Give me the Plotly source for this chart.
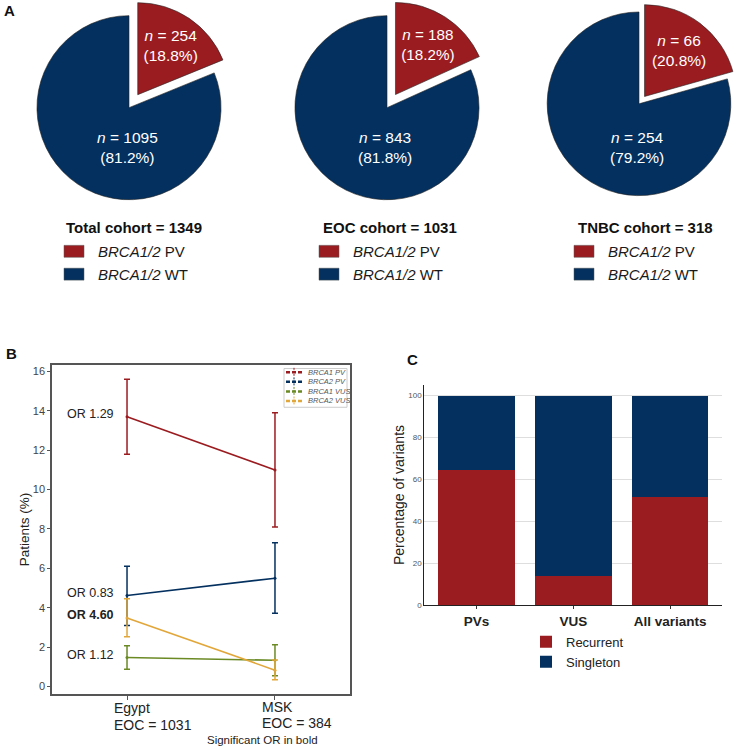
import plotly.graph_objects as go

W, H = 740, 752
def px(x): return x / W
def py(y): return 1 - y / H

FONT = "Liberation Sans, Arial, Helvetica, sans-serif"
RED = "#9b1c20"
BLUE = "#03305f"
GREEN = "#6b8a24"
GOLD = "#e2a73a"

# ---------------- Panel A data ----------------
pie_labels = ["<i>BRCA1/2</i> PV", "<i>BRCA1/2</i> WT"]
cohort_names = ["Total cohort", "EOC cohort", "TNBC cohort"]
cohort_totals = [1349, 1031, 318]
total_counts = [254, 1095]
eoc_counts = [188, 843]
tnbc_counts = [66, 254]
total_pcts = [18.8, 81.2]
eoc_pcts = [18.2, 81.8]
tnbc_pcts = [20.8, 79.2]

# ---------------- Panel B data ----------------
sites = ["Egypt", "MSK"]
site_eoc = [1031, 384]
series_names = ["BRCA1 PV", "BRCA2 PV", "BRCA1 VUS", "BRCA2 VUS"]
brca1_pv = [13.7, 11.0]
brca1_pv_lo = [11.8, 8.1]
brca1_pv_hi = [15.6, 13.9]
brca2_pv = [4.62, 5.5]
brca2_pv_lo = [3.1, 3.72]
brca2_pv_hi = [6.1, 7.3]
brca1_vus = [1.47, 1.33]
brca1_vus_lo = [0.88, 0.55]
brca1_vus_hi = [2.07, 2.12]
brca2_vus = [3.48, 0.83]
brca2_vus_lo = [2.52, 0.34]
brca2_vus_hi = [4.46, 1.35]
or_texts = ["OR 1.29", "OR 0.83", "OR 1.12", "OR 4.60"]
or_significant = [False, False, False, True]

# ---------------- Panel C data ----------------
variant_types = ["PVs", "VUS", "All variants"]
recurrent_pct = [64.3, 14.0, 51.8]
singleton_pct = [35.7, 86.0, 48.2]

fig = go.Figure()

annotations = []
shapes = []

# ---------------- Panel A: pies ----------------
pie_sets = [(total_counts, total_pcts), (eoc_counts, eoc_pcts), (tnbc_counts, tnbc_pcts)]
pie_centers = [129, 387, 639]
pie_cy = 108
pie_pulls = [0.17, 0.17, 0.10]
slice_colors = [RED, BLUE]
for i, ((counts, pcts), cx, pull) in enumerate(zip(pie_sets, pie_centers, pie_pulls)):
    half = 93 * (1 + pull)
    x0 = max(cx - half, 0)
    x1 = min(cx + half, W)
    half_w = min(cx - x0, x1 - cx)
    labels_txt = [f"<i>n</i> = {c}<br>({p}%)" for c, p in zip(counts, pcts)]
    fig.add_trace(go.Pie(
        labels=pie_labels,
        values=counts,
        text=[labels_txt[0], ""],
        textinfo="text",
        textposition="inside",
        insidetextorientation="horizontal",
        textfont=dict(color="white", size=15.5, family=FONT),
        sort=False,
        direction="clockwise",
        rotation=0,
        pull=[pull, 0],
        marker=dict(colors=slice_colors, line=dict(color="#222222", width=0.6)),
        domain=dict(x=[px(cx - half_w), px(cx + half_w)], y=[py(pie_cy + half_w), 1]),
        showlegend=False,
        hoverinfo="label+value",
    ))
    # label of the large (WT) slice, set just below the pie centre
    annotations.append(dict(text=labels_txt[1], x=px(cx - 2), y=py(pie_cy + 40), xref="paper", yref="paper",
                            xanchor="center", yanchor="middle", showarrow=False,
                            font=dict(size=15.5, color="white", family=FONT)))

# pie keys (one per cohort)
key_lefts = [64, 319, 574]
key_title_lefts = [64, 320.5, 576]
for nm, tot, kx, tx in zip(cohort_names, cohort_totals, key_lefts, key_title_lefts):
    annotations.append(dict(text=f"<b>{nm} = {tot}</b>", x=px(tx), y=py(229), xref="paper", yref="paper",
                            xanchor="left", yanchor="middle", showarrow=False,
                            font=dict(size=15, color="#111111", family=FONT)))
    for j, (lab, col) in enumerate(zip(pie_labels, slice_colors)):
        yy = 253 + 23 * j
        shapes.append(dict(type="rect", xref="paper", yref="paper", x0=px(kx), x1=px(kx + 20),
                           y0=py(yy + 6), y1=py(yy - 6), fillcolor=col, line=dict(color="#555555", width=0.5)))
        annotations.append(dict(text=lab, x=px(kx + 32), y=py(yy), xref="paper", yref="paper",
                                xanchor="left", yanchor="middle", showarrow=False,
                                font=dict(size=15, color="#1a1a1a", family=FONT)))

# ---------------- Panel B: lines with error bars ----------------
b_series = [
    (brca1_pv, brca1_pv_lo, brca1_pv_hi, RED),
    (brca2_pv, brca2_pv_lo, brca2_pv_hi, BLUE),
    (brca1_vus, brca1_vus_lo, brca1_vus_hi, GREEN),
    (brca2_vus, brca2_vus_lo, brca2_vus_hi, GOLD),
]
b_x = list(range(len(sites)))
for name, (m, lo, hi, col) in zip(series_names, b_series):
    fig.add_trace(go.Scatter(
        x=b_x, y=m, name=name, mode="lines+markers",
        line=dict(color=col, width=1.6),
        marker=dict(size=3, color=col),
        error_y=dict(type="data", symmetric=False,
                     array=[h - v for h, v in zip(hi, m)],
                     arrayminus=[v - l for v, l in zip(m, lo)],
                     color=col, thickness=1.5, width=3),
        xaxis="x", yaxis="y", showlegend=False,
    ))

# ---------------- Panel C: stacked bars ----------------
fig.add_trace(go.Bar(x=variant_types, y=recurrent_pct, name="Recurrent",
                     marker=dict(color=RED, line=dict(width=0)),
                     xaxis="x2", yaxis="y2"))
fig.add_trace(go.Bar(x=variant_types, y=singleton_pct, name="Singleton",
                     marker=dict(color=BLUE, line=dict(width=0)),
                     xaxis="x2", yaxis="y2"))

# panel letters
for letter, (lx, ly) in zip(["A", "B", "C"], [(2, 11), (4, 356), (405, 362)]):
    annotations.append(dict(text=f"<b>{letter}</b>", x=px(lx), y=py(ly), xref="paper", yref="paper",
                            xanchor="left", yanchor="middle", showarrow=False,
                            font=dict(size=15, color="#111111", family=FONT)))

# Panel B x labels (left-aligned under the ticks), one line each
for xi, (s, n) in enumerate(zip(sites, site_eoc)):
    annotations.append(dict(text=s, x=xi, y=py(712.5 - xi), xref="x", yref="paper",
                            yanchor="middle", xanchor="left", xshift=-15,
                            showarrow=False, font=dict(size=14, color="#222222", family=FONT)))
    annotations.append(dict(text=f"EOC = {n}", x=xi, y=py(729.5 - 2 * xi), xref="x", yref="paper",
                            yanchor="middle", xanchor="left", xshift=-15,
                            showarrow=False, font=dict(size=14, color="#222222", family=FONT)))
annotations.append(dict(text="Significant OR in bold", x=px(262), y=py(744.5), xref="paper", yref="paper",
                        xanchor="center", yanchor="middle", showarrow=False,
                        font=dict(size=11.5, color="#222222", family=FONT)))

# OR labels beside Egypt values
egypt_vals = [brca1_pv[0], brca2_pv[0], brca1_vus[0], brca2_vus[0]]
for t, sig, v in zip(or_texts, or_significant, egypt_vals):
    annotations.append(dict(text=f"<b>{t}</b>" if sig else t, x=0, y=v, xref="x", yref="y",
                            xanchor="right", yanchor="middle", xshift=-11, yshift=3, showarrow=False,
                            font=dict(size=12.5, color="#222222", family=FONT)))

# Panel B legend (compact key)
shapes.append(dict(type="rect", xref="paper", yref="paper", x0=px(284), x1=px(347), y0=py(410), y1=py(371),
                   line=dict(color="#cccccc", width=1), fillcolor="white", layer="above"))
for i, (name, (_, _, _, col)) in enumerate(zip(series_names, b_series)):
    yy = 374.8 + 9.6 * i
    shapes.append(dict(type="line", xref="paper", yref="paper", x0=px(286), x1=px(302), y0=py(yy), y1=py(yy),
                       line=dict(color=col, width=2.5, dash="4px,2px"), layer="above"))
    shapes.append(dict(type="line", xref="paper", yref="paper", x0=px(294), x1=px(294), y0=py(yy - 4.5), y1=py(yy + 4.5),
                       line=dict(color=col, width=1, dash="2px,1px"), layer="above"))
    annotations.append(dict(text=f"<i>{name}</i>", x=px(306), y=py(yy), xref="paper", yref="paper",
                            xanchor="left", yanchor="middle", showarrow=False,
                            font=dict(size=7.5, color="#555555", family=FONT)))

fig.update_layout(
    width=W, height=H,
    margin=dict(l=0, r=0, t=0, b=0),
    paper_bgcolor="white", plot_bgcolor="white",
    font=dict(family=FONT, color="#222222"),
    barmode="stack", bargap=0.207,
    showlegend=True,
    xaxis=dict(domain=[px(52), px(350)], range=[-0.507, 1.507], tickvals=b_x, ticktext=["", ""],
               ticks="outside", ticklen=4, tickcolor="#555555", showline=True, linecolor="#555555",
               linewidth=1.5, mirror=True, showgrid=False, zeroline=False, anchor="y"),
    yaxis=dict(domain=[py(699), py(367)], range=[-0.4, 16.35], tickvals=list(range(0, 17, 2)),
               ticks="outside", ticklen=3, tickcolor="#555555", showline=True, linecolor="#555555",
               linewidth=1.5, mirror=True, showgrid=False, zeroline=False,
               tickfont=dict(size=11, color="#444444"),
               title=dict(text="Patients (%)", font=dict(size=13.5, color="#222222"), standoff=0), anchor="x"),
    xaxis2=dict(domain=[px(424.3), px(722.3)], range=[-0.54, 2.54], type="category",
                ticks="outside", ticklen=3, tickcolor="#333333", showline=True, linecolor="#222222",
                linewidth=1.2, showgrid=False, zeroline=False, anchor="y2",
                tickfont=dict(size=13.5, color="#222222"), tickprefix="<b>", ticksuffix="</b>"),
    yaxis2=dict(domain=[py(609.3), py(387.3)], range=[0, 105.2], tickvals=list(range(0, 101, 20)),
                showgrid=True, gridcolor="#dedede", gridwidth=1, showline=True, linecolor="#222222",
                linewidth=1.2, zeroline=False, ticks="", tickfont=dict(size=8, color="#555555"), anchor="x2",
                title=dict(text="Percentage of variants", font=dict(size=14, color="#222222"), standoff=0)),
    legend=dict(bgcolor="rgba(0,0,0,0)", font=dict(size=13, color="#222222", family=FONT),
                x=px(526), y=py(631), xanchor="left", yanchor="top", tracegroupgap=0, traceorder="normal"),
    annotations=annotations,
    shapes=shapes,
)

fig.write_html("out.html")
